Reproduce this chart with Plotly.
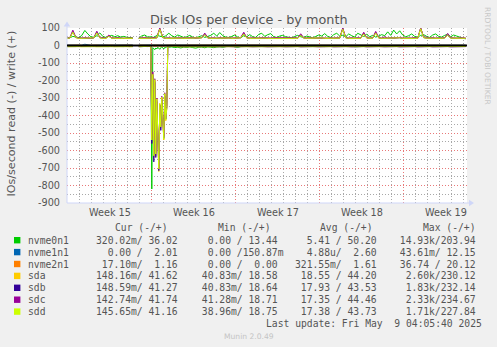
import plotly.graph_objects as go
import pandas as pd

# ---------------- data ----------------
T6_START = "2025-04-06 22:00"      # 6-hour samples
BURST_START = "2025-04-13 22:00"   # 2-hour samples during the read burst
DAILY_START = "2025-04-06"

devices = ["nvme0n1", "nvme1n1", "nvme2n1", "sda", "sdb", "sdc", "sdd"]
colors = ["#00cc00", "#0066b3", "#ff8000", "#ffcc00", "#330099", "#990099", "#ccff00"]

write_nvme0n1 = [46, 44, 52, 48, 45, 58, 86, 66, 50, 47,
                 56, 72, 52, 46, 54, 58, 50, 56, 48, 52,
                 47, 45, 44, None,
                 42, 55, 60, 48, 50, 46, 58, 52, 49, 55,
                 70, 56, 48, 60, 54, 46, 50, 58, 48, 44,
                 50, 56, 46, 52, 58, 70, 54, 74, 56, 48,
                 46, 52, 60, 48, 44, 56, 50, 62, 50, 46,
                 64, 70, 52, 62, 68, 50, 46, 54, 58, 50,
                 46, 44, 52, 58, 50, 46, 54, 48, 44, 52,
                 60, 54, 68, 52, 46, 62, 70, 54, 58, 50,
                 66, 56, 48, 70, 60, 52, 64, 50, 58, 48,
                 54, 62, 56, 78, 58, 88, 66, 84, 60, 50,
                 56, 66, 52, 48, 58, 62, 52, 46, 60, 66,
                 52, 48, 58, 64, 50, 60, 54, 46, 42, 38]
write_nvme1n1 = [2, 2, 3, 2, 3, 2, 7, 3, 2, 2,
                 3, 2, 2, 3, 2, 2, 3, 2, 2, 3,
                 2, 2, 3, None,
                 2, 3, 2, 2, 3, 2, 2, 3, 2, 2,
                 3, 2, 2, 3, 2, 3, 2, 2, 3, 2,
                 2, 3, 2, 2, 3, 2, 3, 2, 2, 3,
                 2, 2, 3, 2, 3, 2, 2, 3, 2, 2,
                 3, 2, 2, 3, 2, 2, 3, 2, 3, 2,
                 2, 3, 2, 2, 3, 2, 2, 3, 2, 2,
                 3, 2, 3, 2, 2, 3, 2, 2, 3, 2,
                 2, 3, 2, 2, 3, 2, 3, 2, 2, 3,
                 2, 2, 3, 2, 2, 3, 2, 3, 2, 2,
                 3, 2, 2, 3, 2, 2, 3, 2, 2, 3,
                 2, 3, 2, 2, 3, 2, 2, 3, 2, 2]
write_nvme2n1 = [1, 2, 1, 2, 2, 1, 2, 1, 1, 2,
                 2, 1, 2, 1, 2, 2, 1, 2, 1, 2,
                 1, 2, 1, None,
                 2, 1, 2, 2, 1, 2, 1, 2, 2, 1,
                 2, 1, 1, 2, 2, 1, 2, 1, 2, 1,
                 2, 2, 1, 2, 1, 2, 2, 1, 2, 1,
                 1, 2, 2, 1, 2, 1, 2, 2, 1, 2,
                 2, 1, 2, 1, 2, 2, 1, 2, 1, 2,
                 1, 2, 2, 1, 2, 1, 2, 2, 1, 2,
                 2, 1, 2, 2, 1, 2, 1, 2, 2, 1,
                 2, 2, 1, 2, 1, 2, 2, 1, 2, 1,
                 1, 2, 2, 1, 2, 1, 2, 2, 1, 2,
                 2, 1, 2, 1, 2, 2, 1, 2, 1, 2,
                 1, 2, 2, 1, 2, 1, 2, 1, 1, 1]
write_sda = [42, 44, 80, 46, 42, 41, 44, 43, 42, 44,
             76, 45, 42, 41, 55, 43, 42, 44, 41, 42,
             43, 41, 42, None,
             41, 43, 44, 42, 43, 42, 44, 97, 46, 42,
             43, 41, 42, 44, 43, 42, 41, 43, 44, 42,
             43, 45, 65, 44, 42, 43, 41, 44, 42, 43,
             44, 42, 41, 43, 45, 70, 44, 42, 43, 41,
             42, 44, 43, 41, 42, 44, 43, 42, 41, 43,
             44, 42, 43, 41, 61, 44, 42, 43, 41, 42,
             43, 44, 42, 41, 43, 42, 44, 43, 97, 45,
             42, 43, 41, 44, 42, 70, 44, 42, 43, 75,
             44, 42, 43, 41, 44, 42, 43, 45, 42, 41,
             43, 42, 44, 41, 100, 46, 43, 42, 44, 41,
             43, 42, 44, 63, 43, 42, 41, 43, 42, 42]
write_sdb = [41, 43, 78, 45, 43, 42, 43, 42, 41, 43,
             74, 44, 43, 42, 53, 42, 41, 43, 42, 41,
             42, 42, 41, None,
             42, 42, 43, 41, 42, 43, 43, 95, 45, 41,
             42, 42, 41, 43, 42, 41, 42, 42, 43, 41,
             42, 44, 63, 43, 41, 42, 42, 43, 41, 42,
             43, 41, 42, 42, 44, 68, 43, 41, 42, 42,
             41, 43, 42, 42, 41, 43, 42, 41, 42, 42,
             43, 41, 42, 42, 59, 43, 41, 42, 42, 41,
             42, 43, 41, 42, 42, 41, 43, 42, 95, 44,
             41, 42, 42, 43, 41, 68, 43, 41, 42, 73,
             43, 41, 42, 42, 43, 41, 42, 44, 41, 42,
             42, 41, 43, 42, 98, 45, 42, 41, 43, 42,
             42, 41, 43, 61, 42, 41, 42, 42, 41, 41]
write_sdc = [42, 45, 88, 47, 42, 41, 45, 43, 42, 45,
             82, 46, 42, 41, 60, 44, 42, 45, 41, 42,
             44, 41, 42, None,
             41, 44, 45, 42, 44, 42, 45, 100, 47, 42,
             44, 41, 42, 45, 44, 42, 41, 44, 45, 42,
             44, 46, 71, 45, 42, 44, 41, 45, 42, 44,
             45, 42, 41, 44, 46, 76, 45, 42, 44, 41,
             42, 45, 44, 41, 42, 45, 44, 42, 41, 44,
             45, 42, 44, 41, 67, 45, 42, 44, 41, 42,
             44, 45, 42, 41, 44, 42, 45, 44, 100, 47,
             42, 44, 41, 45, 42, 76, 45, 42, 44, 81,
             45, 42, 50, 41, 45, 42, 44, 46, 42, 41,
             44, 42, 45, 41, 100, 48, 48, 42, 45, 41,
             44, 42, 45, 69, 44, 42, 41, 44, 42, 42]
write_sdd = [41, 43, 76, 45, 41, 41, 43, 42, 41, 43,
             72, 44, 41, 41, 52, 42, 41, 43, 41, 41,
             42, 41, 41, None,
             41, 42, 43, 41, 42, 41, 43, 93, 45, 41,
             42, 41, 41, 43, 42, 41, 41, 42, 43, 41,
             42, 44, 61, 43, 41, 42, 41, 43, 41, 42,
             43, 41, 41, 42, 44, 66, 43, 41, 42, 41,
             41, 43, 42, 41, 41, 43, 42, 41, 41, 42,
             43, 41, 42, 41, 57, 43, 41, 42, 41, 41,
             42, 43, 41, 41, 42, 41, 43, 42, 93, 44,
             41, 42, 41, 43, 41, 66, 43, 41, 42, 71,
             43, 41, 42, 41, 43, 41, 42, 44, 41, 41,
             42, 41, 43, 41, 96, 45, 42, 41, 43, 41,
             42, 41, 43, 59, 42, 41, 41, 42, 41, 41]

read_nvme0n1 = [0, 0, 0, 0, 0, 0, 0, 0, 0, 0,
                0, 0, 0, 0, 0, 0, 0, 0, 0, 0,
                0, 0, 0, None,
                0, 0, 0, -2, -2, None, None, None, None, None,
                -10, -8, -12, -10, -14, -9, -11, -8, -12, -15,
                -10, -9, -13, -8, -10, -12, -9, -7, -10, -6,
                -2, 0, -8, -10, -6, 0, 0, 0, 0, 0,
                0, 0, 0, 0, 0, 0, 0, 0, 0, 0,
                0, 0, -5, -6, -4, 0, 0, 0, 0, 0,
                0, -4, -6, 0, 0, 0, 0, 0, 0, 0,
                0, 0, -7, -8, -6, 0, 0, 0, 0, 0,
                0, 0, 0, 0, 0, 0, 0, 0, 0, 0,
                0, 0, 0, 0, 0, 0, 0, 0, 0, 0,
                0, 0, 0, 0, 0, 0, 0, 0, 0, 0]
read_nvme1n1_daily = [0, 0, 0, 0, 0, 0, 0, 0, 0, 0, 0, 0, 0, 0, 0, 0, 0, 0,
                      0, 0, 0, 0, 0, 0, 0, 0, 0, 0, 0, 0, 0, 0, 0, 0, 0]
read_nvme2n1_daily = [0, 0, 0, 0, 0, 0, 0, 0, 0, 0, 0, 0, 0, 0, 0, 0, 0, 0,
                      0, 0, 0, 0, 0, 0, 0, 0, 0, 0, 0, 0, 0, 0, 0, 0, 0]
read_sda = [-6, -6, -7, -6, -5, -6, -6, -7, -6, -6,
            -6, -5, -6, -6, -7, -6, -6, -5, -6, -6,
            -6, -7, -6, None,
            -6, -6, -5, -6, -4, None, None, None, None, None,
            -4, -6, -6, -7, -6, -6, -5, -6, -6, -7,
            -6, -6, -5, -6, -6, -7, -6, -6, -5, -6,
            -6, -7, -6, -6, -5, -6, -6, -7, -6, -6,
            -5, -6, -6, -7, -6, -6, -5, -6, -6, -6,
            -7, -6, -6, -5, -6, -6, -7, -6, -6, -5,
            -6, -6, -7, -6, -6, -5, -6, -6, -6, -7,
            -6, -6, -5, -6, -6, -7, -6, -6, -5, -6,
            -6, -7, -6, -6, -5, -6, -6, -7, -6, -6,
            -5, -6, -6, -7, -6, -6, -5, -6, -6, -6,
            -7, -6, -6, -5, -6, -6, -7, -6, -6, -5]
read_sdb = [-6, -7, -6, -6, -5, -6, -7, -6, -6, -5,
            -6, -6, -7, -6, -6, -5, -6, -7, -6, -6,
            -5, -6, -6, None,
            -7, -6, -6, -5, -4, None, None, None, None, None,
            -4, -7, -6, -6, -5, -6, -7, -6, -6, -5,
            -6, -7, -6, -6, -5, -6, -6, -7, -6, -6,
            -5, -6, -7, -6, -6, -5, -6, -6, -7, -6,
            -6, -5, -6, -7, -6, -6, -5, -6, -6, -7,
            -6, -6, -5, -6, -7, -6, -6, -5, -6, -6,
            -7, -6, -6, -5, -6, -7, -6, -6, -5, -6,
            -6, -7, -6, -6, -5, -6, -7, -6, -6, -5,
            -6, -6, -7, -6, -6, -5, -6, -7, -6, -6,
            -5, -6, -6, -7, -6, -6, -5, -6, -7, -6,
            -6, -5, -6, -6, -7, -6, -6, -5, -6, -6]
read_sdc = [-6, -6, -5, -6, -7, -6, -6, -5, -6, -7,
            -6, -6, -6, -5, -6, -7, -6, -6, -5, -6,
            -7, -6, -6, None,
            -5, -6, -7, -6, -4, None, None, None, None, None,
            -4, -6, -5, -6, -7, -6, -6, -5, -6, -6,
            -7, -6, -6, -5, -6, -7, -6, -6, -6, -5,
            -6, -7, -6, -6, -5, -6, -6, -7, -6, -6,
            -5, -6, -7, -6, -6, -6, -5, -6, -7, -6,
            -6, -5, -6, -6, -7, -6, -6, -5, -6, -7,
            -6, -6, -6, -5, -6, -7, -6, -6, -5, -6,
            -7, -6, -6, -5, -6, -6, -7, -6, -6, -5,
            -6, -7, -6, -6, -6, -5, -6, -7, -6, -6,
            -5, -6, -6, -7, -6, -6, -5, -6, -7, -6,
            -6, -6, -5, -6, -7, -6, -6, -5, -6, -6]
read_sdd = [-7, -6, -6, -7, -6, -7, -6, -6, -7, -6,
            -7, -6, -7, -7, -6, -6, -7, -6, -7, -6,
            -6, -7, -6, None,
            -7, -6, -7, -6, -4, None, None, None, None, None,
            -4, -6, -7, -6, -7, -7, -6, -6, -7, -6,
            -7, -6, -6, -7, -6, -7, -7, -6, -6, -7,
            -6, -7, -6, -6, -7, -6, -7, -7, -6, -6,
            -7, -6, -7, -6, -6, -7, -6, -7, -7, -6,
            -6, -7, -6, -7, -6, -6, -7, -6, -7, -7,
            -6, -6, -7, -6, -7, -6, -6, -7, -6, -7,
            -7, -6, -6, -7, -6, -7, -6, -6, -7, -6,
            -7, -7, -6, -6, -7, -6, -7, -6, -6, -7,
            -6, -7, -7, -6, -6, -7, -6, -7, -6, -6,
            -7, -6, -7, -7, -6, -6, -7, -6, -7, -6]

burst_nvme0n1 = [-2, -820, -12, -18, -24, -14, -20, -10, -16, -22, -12, -8, -14, -20, -10, -12, -8, -6, -10]
burst_nvme2n1 = [0, -3, -3, -4, -3, -3, -4, -3, -3, -4, -3, -3, -4, -3, -3, -3, -3, -1, 0]
burst_sda = [-4, -520, -160, -640, -200, -630, -310, -560, -720, -330, -470, -300, -420, -540, -280, -430, -360, -6, -4]
burst_sdb = [-4, -560, -170, -665, -210, -640, -320, -580, -715, -340, -485, -310, -430, -530, -290, -420, -350, -6, -4]
burst_sdc = [-4, -530, -150, -620, -190, -615, -300, -545, -700, -338, -460, -290, -415, -520, -270, -410, -345, -6, -4]
burst_sdd = [-4, -540, -165, -630, -195, -620, -305, -550, -705, -335, -465, -295, -420, -535, -275, -425, -355, -6, -4]

# legend statistics (read / write)
cur_read = ["320.02m", "0.00", "17.10m", "148.16m", "148.59m", "142.74m", "145.65m"]
cur_write = ["36.02", "2.01", "1.16", "41.62", "41.27", "41.74", "41.16"]
min_read = ["0.00", "0.00", "0.00", "40.83m", "40.83m", "41.28m", "38.96m"]
min_write = ["13.44", "150.87m", "0.00", "18.58", "18.64", "18.71", "18.75"]
avg_read = ["5.41", "4.88u", "321.55m", "18.55", "17.93", "17.35", "17.38"]
avg_write = ["50.20", "2.60", "1.61", "44.20", "43.53", "44.46", "43.73"]
max_read = ["14.93k", "43.61m", "36.74", "2.60k", "1.83k", "2.33k", "1.71k"]
max_write = ["203.94", "12.15", "20.12", "230.12", "232.14", "234.67", "227.84"]

y_ticks = [-900, -800, -700, -600, -500, -400, -300, -200, -100, 0, 100]
y_ticklabels = ["-900", "-800", "-700", "-600", "-500", "-400", "-300", "-200", "-100", "0", "100"]
week_grid = ["2025-04-14", "2025-04-21", "2025-04-28", "2025-05-05"]
week_label_pos = ["2025-04-10 12:00", "2025-04-17 12:00", "2025-04-24 12:00",
                  "2025-05-01 12:00", "2025-05-08 12:00"]
week_labels = ["Week 15", "Week 16", "Week 17", "Week 18", "Week 19"]
x_range = ["2025-04-06 22:20", "2025-05-10 06:40"]
last_update = "Last update: Fri May  9 04:05:40 2025"

# ---------------- build ----------------
t6 = pd.date_range(T6_START, periods=len(write_sda), freq="6h")
tb = pd.date_range(BURST_START, periods=len(burst_sda), freq="2h")
td = pd.date_range(DAILY_START, periods=len(read_nvme1n1_daily), freq="D")

reads = {
    "nvme0n1": [(t6, read_nvme0n1), (tb, burst_nvme0n1)],
    "nvme1n1": [(td, read_nvme1n1_daily)],
    "nvme2n1": [(td, read_nvme2n1_daily), (tb, burst_nvme2n1)],
    "sda": [(t6, read_sda), (tb, burst_sda)],
    "sdb": [(t6, read_sdb), (tb, burst_sdb)],
    "sdc": [(t6, read_sdc), (tb, burst_sdc)],
    "sdd": [(t6, read_sdd), (tb, burst_sdd)],
}
writes = {
    "nvme0n1": write_nvme0n1, "nvme1n1": write_nvme1n1, "nvme2n1": write_nvme2n1,
    "sda": write_sda, "sdb": write_sdb, "sdc": write_sdc, "sdd": write_sdd,
}

fig = go.Figure()
for dev, col in zip(devices, colors):
    for tx, vals in reads[dev]:
        fig.add_trace(go.Scatter(x=tx, y=vals, mode="lines", line=dict(color=col, width=1),
                                 connectgaps=False, hoverinfo="skip", name=dev + " read"))
    fig.add_trace(go.Scatter(x=t6, y=writes[dev], mode="lines", line=dict(color=col, width=1),
                             connectgaps=False, hoverinfo="skip", name=dev + " write"))

W_PX, H_PX = 497, 347
L, W, T, H = 67, 400, 28, 175
B = T + H


def px(x):
    return (x - L) / W


def py(y):
    return (B - y) / H


FONT = "DejaVu Sans"
MONO = "DejaVu Sans Mono"
TXT = "#555555"
MGRID = "#e87878"
GRID = "#a8a8a8"
AXIS = "#cfd6f8"

fig.update_layout(
    width=W_PX, height=H_PX,
    margin=dict(l=L, r=W_PX - L - W, t=T, b=H_PX - B),
    paper_bgcolor="#f0f0f0", plot_bgcolor="#ffffff",
    showlegend=False,
    xaxis=dict(type="date", range=x_range, tickmode="array", tickvals=week_grid,
               showticklabels=False, ticks="", showgrid=True, gridcolor=MGRID,
               griddash="1px,2px", gridwidth=1, zeroline=False, showline=False,
               minor=dict(tickmode="linear", tick0="2025-04-07", dtick=86400000,
                          showgrid=True, gridcolor=GRID, griddash="1px,2px", gridwidth=1, ticks="")),
    yaxis=dict(range=[-900, 100], tickmode="array", tickvals=y_ticks, ticktext=y_ticklabels,
               showgrid=True, gridcolor=MGRID, griddash="1px,2px", gridwidth=1,
               zeroline=False, showline=False, ticks="", ticklabelstandoff=6,
               tickfont=dict(family=FONT, size=9.7, color=TXT),
               minor=dict(tickmode="linear", tick0=50, dtick=100, showgrid=True,
                          gridcolor=GRID, griddash="1px,2px", gridwidth=1, ticks="")),
)

shapes = []
# axes with arrows
shapes.append(dict(type="line", xref="paper", yref="paper", x0=px(67), x1=px(67), y0=py(B), y1=py(25),
                   line=dict(color=AXIS, width=1), layer="above"))
shapes.append(dict(type="line", xref="paper", yref="paper", x0=px(67), x1=px(470), y0=py(B), y1=py(B),
                   line=dict(color=AXIS, width=1), layer="above"))
shapes.append(dict(type="path", xref="paper", yref="paper",
                   path=f"M {px(63.7)} {py(26.5)} L {px(67)} {py(21.5)} L {px(70.3)} {py(26.5)} Z",
                   fillcolor=AXIS, line=dict(width=0), layer="above"))
shapes.append(dict(type="path", xref="paper", yref="paper",
                   path=f"M {px(469)} {py(B - 3.3)} L {px(474)} {py(B)} L {px(469)} {py(B + 3.3)} Z",
                   fillcolor=AXIS, line=dict(width=0), layer="above"))
# zero line drawn over the data
shapes.append(dict(type="line", xref="paper", yref="y", x0=0, x1=1, y0=0, y1=0,
                   line=dict(color="#000000", width=2), layer="above"))

annotations = []


def ann(text, x, y, size, family=FONT, color=TXT, xanchor="center", yanchor="middle", angle=0, xref="paper"):
    annotations.append(dict(text=text, x=x, y=y, xref=xref, yref="paper", showarrow=False,
                            xanchor=xanchor, yanchor=yanchor, textangle=angle, borderpad=0,
                            font=dict(family=family, size=size, color=color)))


ann("Disk IOs per device - by month", px(248.5), py(19.5), 12.8)
ann("IOs/second read (-) / write (+)", px(10.5), py(114), 11.1, angle=-90)
ann("RRDTOOL / TOBI OETIKER", px(488), py(56), 7.6, color="#c8c8c8", angle=90)
for pos, lab in zip(week_label_pos, week_labels):
    ann(lab, pos, py(212.5), 9.7, xref="x")

NB = "\u00a0"


def fmt(v):
    if v[-1].isalpha():
        num, suf = v[:-1], v[-1]
    else:
        num, suf = v, " "
    return (num.rjust(6) + suf).replace(" ", NB)


headers = ["Cur (-/+)", "Min (-/+)", "Avg (-/+)", "Max (-/+)"]
header_right = [169.3, 271.8, 374.0, 476.8]
cell_right = [184.5, 284.6, 383.6, 482.6]
for h, xr in zip(headers, header_right):
    ann(h, px(xr), py(227.5), 9.7, family=MONO, xanchor="right")

row0, dy = 240.2, 11.9
cols = [(cur_read, cur_write), (min_read, min_write), (avg_read, avg_write), (max_read, max_write)]
for i, (dev, col) in enumerate(zip(devices, colors)):
    yy = row0 + i * dy
    shapes.append(dict(type="rect", xref="paper", yref="paper", x0=px(14), x1=px(20.4),
                       y0=py(yy + 3.2), y1=py(yy - 3.2), fillcolor=col, line=dict(width=0)))
    ann(dev, px(26.7), py(yy), 9.7, family=MONO, xanchor="left")
    for (rv, wv), xr in zip(cols, cell_right):
        ann(fmt(rv[i]) + "/" + fmt(wv[i]), px(xr), py(yy), 9.7, family=MONO, xanchor="right")

ann(last_update.replace(" ", NB), px(482.5), py(323.5), 9.7, family=MONO, xanchor="right")
ann("Munin 2.0.49", px(248.8), py(336), 7.6, color="#c4c4c4")

fig.update_layout(shapes=shapes, annotations=annotations)
fig.write_html("out.html")
